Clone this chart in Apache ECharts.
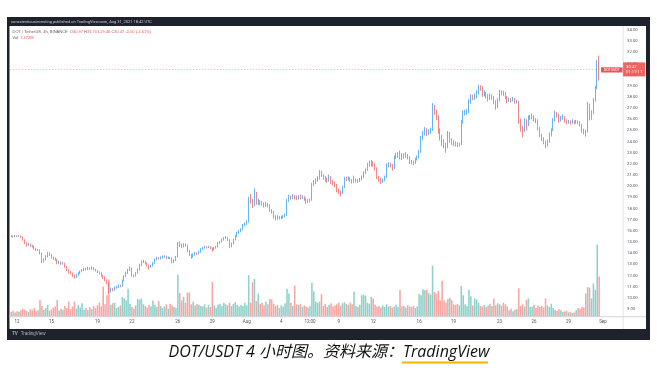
<!DOCTYPE html>
<html><head><meta charset="utf-8">
<script src="https://cdn.jsdelivr.net/npm/echarts/dist/echarts.min.js"></script>
<style>html,body{margin:0;padding:0;background:#fff}#c{width:657px;height:371px}</style>
</head><body><div id="c"></div>
<script>
// DOT/USDT 4h candles, Jul 11 12:00 UTC -> Aug 31 16:00 UTC
const opens = [
15.55,15.52,15.48,15.55,15.50,15.53,15.45,15.20,14.90,14.72,
14.80,14.65,14.60,14.40,14.27,14.30,14.00,13.25,13.40,13.70,
14.00,13.85,13.60,13.50,13.40,13.10,13.20,13.05,13.10,12.80,
12.50,12.30,12.20,12.00,11.85,12.05,12.20,12.35,12.45,12.60,
12.55,12.65,12.60,12.70,12.55,12.45,12.30,12.20,12.00,11.85,
11.60,11.35,10.55,10.80,10.70,10.90,10.95,11.10,11.05,11.55,
11.90,12.20,12.45,12.65,12.00,11.95,12.20,12.50,12.90,13.20,
13.25,13.10,12.90,12.75,12.85,13.10,13.40,13.55,13.50,13.60,
13.65,13.70,13.55,13.60,13.55,13.20,13.35,13.65,14.80,14.70,
14.60,14.75,14.70,14.25,13.90,13.65,13.85,14.00,13.95,14.10,
14.35,14.45,14.55,14.50,14.55,14.45,14.30,14.45,14.55,14.90,
15.00,15.20,15.35,15.40,15.20,14.60,14.85,15.20,15.50,15.80,
15.95,16.10,16.50,16.60,16.80,18.75,18.70,18.30,19.40,18.55,
18.60,18.50,18.40,18.30,18.35,18.30,17.85,17.70,17.30,17.10,
17.25,17.15,17.20,17.30,17.40,18.70,19.00,18.95,19.05,19.00,
18.90,19.00,18.95,19.00,18.90,18.60,18.70,18.75,20.10,20.30,
20.50,20.70,21.25,21.00,20.80,20.60,20.50,20.80,20.40,20.30,
20.10,19.65,19.50,19.40,19.90,20.70,20.65,20.70,20.55,20.40,
20.50,20.55,20.45,20.60,20.80,21.20,21.45,21.90,21.95,22.10,
21.95,21.60,20.80,20.60,20.50,20.55,20.80,21.90,21.95,21.90,
21.60,22.60,22.70,22.80,22.70,22.60,22.75,22.80,22.60,22.20,
22.15,22.10,22.40,22.60,23.05,24.30,24.70,25.00,24.75,24.90,
25.00,27.10,26.65,26.20,25.00,24.40,23.95,23.70,23.50,24.75,
24.10,23.90,23.85,23.80,23.70,23.75,25.75,26.55,26.60,26.65,
27.55,28.00,27.95,28.00,28.35,28.90,28.85,28.20,28.35,28.10,
27.90,28.05,28.00,27.60,27.10,27.70,28.45,28.40,28.35,28.00,
27.70,27.75,27.70,27.80,27.55,27.60,25.90,25.30,25.00,25.90,
25.50,26.10,26.15,26.20,26.00,25.90,25.20,24.60,24.30,24.00,
23.70,24.00,24.60,25.00,25.90,26.55,26.40,25.90,26.10,26.20,
25.90,25.75,25.80,25.70,25.80,25.75,25.80,25.75,25.50,25.00,
24.90,24.85,27.30,26.10,26.55,27.70,28.80,30.97
];
const closes = [
15.52,15.48,15.55,15.50,15.53,15.45,15.20,14.90,14.72,14.80,
14.65,14.60,14.40,14.27,14.30,14.00,13.25,13.40,13.70,14.00,
13.85,13.60,13.50,13.40,13.10,13.20,13.05,13.10,12.80,12.50,
12.30,12.20,12.00,11.85,12.05,12.20,12.35,12.45,12.60,12.55,
12.65,12.60,12.70,12.55,12.45,12.30,12.20,12.00,11.85,11.60,
11.35,10.55,10.80,10.70,10.90,10.95,11.10,11.05,11.55,11.90,
12.20,12.45,12.65,12.00,11.95,12.20,12.50,12.90,13.20,13.25,
13.10,12.90,12.75,12.85,13.10,13.40,13.55,13.50,13.60,13.65,
13.70,13.55,13.60,13.55,13.20,13.35,13.65,14.80,14.70,14.60,
14.75,14.70,14.25,13.90,13.65,13.85,14.00,13.95,14.10,14.35,
14.45,14.55,14.50,14.55,14.45,14.30,14.45,14.55,14.90,15.00,
15.20,15.35,15.40,15.20,14.60,14.85,15.20,15.50,15.80,15.95,
16.10,16.50,16.60,16.80,18.75,18.70,18.30,19.40,18.55,18.60,
18.50,18.40,18.30,18.35,18.30,17.85,17.70,17.30,17.10,17.25,
17.15,17.20,17.30,17.40,18.70,19.00,18.95,19.05,19.00,18.90,
19.00,18.95,19.00,18.90,18.60,18.70,18.75,20.10,20.30,20.50,
20.70,21.25,21.00,20.80,20.60,20.50,20.80,20.40,20.30,20.10,
19.65,19.50,19.40,19.90,20.70,20.65,20.70,20.55,20.40,20.50,
20.55,20.45,20.60,20.80,21.20,21.45,21.90,21.95,22.10,21.95,
21.60,20.80,20.60,20.50,20.55,20.80,21.90,21.95,21.90,21.60,
22.60,22.70,22.80,22.70,22.60,22.75,22.80,22.60,22.20,22.15,
22.10,22.40,22.60,23.05,24.30,24.70,25.00,24.75,24.90,25.00,
27.10,26.65,26.20,25.00,24.40,23.95,23.70,23.50,24.75,24.10,
23.90,23.85,23.80,23.70,23.75,25.75,26.55,26.60,26.65,27.55,
28.00,27.95,28.00,28.35,28.90,28.85,28.20,28.35,28.10,27.90,
28.05,28.00,27.60,27.10,27.70,28.45,28.40,28.35,28.00,27.70,
27.75,27.70,27.80,27.55,27.60,25.90,25.30,25.00,25.90,25.50,
26.10,26.15,26.20,26.00,25.90,25.20,24.60,24.30,24.00,23.70,
24.00,24.60,25.00,25.90,26.55,26.40,25.90,26.10,26.20,25.90,
25.75,25.80,25.70,25.80,25.75,25.80,25.75,25.50,25.00,24.90,
24.85,27.30,26.10,26.55,27.70,28.80,30.97,30.47
];
const highs = [
15.62,15.58,15.63,15.60,15.62,15.58,15.50,15.25,14.98,14.92,
14.86,14.74,14.66,14.48,14.40,14.35,14.05,13.55,13.82,14.12,
14.08,13.92,13.70,13.62,13.48,13.32,13.28,13.22,13.15,12.86,
12.58,12.40,12.26,12.08,12.15,12.30,12.45,12.58,12.72,12.70,
12.78,12.72,12.82,12.76,12.62,12.52,12.38,12.28,12.06,11.92,
11.66,11.40,10.92,10.88,11.02,11.08,11.22,11.18,11.65,12.02,
12.35,12.60,12.80,12.72,12.10,12.32,12.62,13.05,13.35,13.40,
13.32,13.16,12.98,12.96,13.22,13.52,13.68,13.64,13.72,13.80,
13.82,13.76,13.70,13.66,13.60,13.45,13.75,15.00,15.05,14.85,
14.90,14.88,14.76,14.30,13.96,13.98,14.12,14.08,14.22,14.45,
14.56,14.66,14.62,14.66,14.62,14.52,14.55,14.64,15.00,15.10,
15.32,15.45,15.55,15.46,15.25,14.95,15.30,15.62,15.92,16.08,
16.22,16.62,16.75,16.95,19.05,19.30,18.85,19.80,19.50,18.90,
18.75,18.70,18.55,18.60,18.50,18.40,17.95,17.78,17.40,17.40,
17.35,17.35,17.42,17.55,18.85,19.25,19.15,19.30,19.20,19.15,
19.20,19.25,19.18,19.12,18.95,18.85,18.90,20.30,20.55,20.70,
20.90,21.45,21.40,21.10,20.90,20.75,21.05,20.90,20.55,20.40,
20.20,19.80,19.60,20.05,20.85,20.85,20.88,20.80,20.65,20.95,
20.70,20.62,20.75,20.95,21.35,21.60,22.10,22.30,22.35,22.25,
22.05,21.70,20.95,20.75,20.70,20.95,22.05,22.15,22.10,21.98,
22.75,23.00,23.05,23.20,22.95,22.95,23.05,22.90,22.70,22.35,
22.30,22.55,22.75,23.25,24.50,24.95,25.30,25.20,25.10,25.25,
27.45,27.30,26.85,26.35,25.20,24.60,24.20,23.90,24.95,24.85,
24.30,24.10,24.00,23.95,23.90,25.95,26.80,26.85,26.90,27.80,
28.25,28.20,28.30,28.60,29.10,29.05,28.95,28.60,28.45,28.25,
28.30,28.25,28.10,27.70,27.90,28.65,28.60,28.55,28.45,28.10,
27.95,27.90,28.00,27.90,27.75,27.65,26.05,25.40,26.10,26.00,
26.35,26.40,26.50,26.35,26.10,26.00,25.30,24.70,24.40,24.10,
24.20,24.80,25.20,26.10,26.75,26.65,26.50,26.30,26.45,26.30,
26.00,25.95,25.90,26.00,25.90,25.95,25.90,25.85,25.60,25.15,
25.05,27.55,27.40,26.80,27.90,29.00,31.30,31.70
];
const lows = [
15.44,15.40,15.42,15.45,15.46,15.38,15.12,14.82,14.60,14.66,
14.55,14.50,14.32,14.18,14.20,13.90,13.10,13.18,13.35,13.62,
13.75,13.52,13.40,13.30,13.00,13.02,12.96,12.98,12.70,12.40,
12.18,12.10,11.88,11.72,11.80,11.98,12.12,12.28,12.40,12.45,
12.48,12.50,12.52,12.46,12.36,12.22,12.10,11.90,11.70,11.48,
11.22,10.40,10.48,10.58,10.64,10.82,10.88,10.96,11.00,11.48,
11.85,12.12,12.40,11.90,11.82,11.90,12.15,12.45,12.85,13.10,
13.00,12.80,12.55,12.68,12.80,13.05,13.35,13.42,13.45,13.52,
13.58,13.45,13.48,13.45,13.08,13.12,13.30,13.60,14.55,14.45,
14.52,14.58,14.10,13.75,13.50,13.60,13.78,13.85,13.90,14.05,
14.28,14.40,14.42,14.45,14.36,14.15,14.25,14.40,14.50,14.84,
14.95,15.12,15.28,15.10,14.45,14.52,14.80,15.15,15.45,15.72,
15.88,16.05,16.42,16.52,16.75,18.45,18.05,18.20,18.35,18.30,
18.30,18.25,18.10,18.15,18.10,17.70,17.55,17.10,16.95,17.00,
17.02,17.05,17.10,17.20,17.35,18.60,18.80,18.85,18.80,18.75,
18.80,18.82,18.85,18.70,18.40,18.50,18.55,18.70,20.00,20.20,
20.40,20.60,20.85,20.60,20.40,20.30,20.40,20.20,20.10,19.90,
19.45,19.30,19.10,19.30,19.85,20.45,20.50,20.40,20.25,20.30,
20.35,20.30,20.38,20.52,20.72,21.10,21.38,21.75,21.80,21.75,
21.40,20.65,20.40,20.20,20.30,20.45,20.75,21.70,21.70,21.40,
21.55,22.45,22.55,22.40,22.35,22.45,22.55,22.40,22.00,21.95,
21.90,22.00,22.30,22.50,23.00,24.10,24.55,24.50,24.60,24.70,
24.95,26.40,25.90,24.70,24.10,23.60,23.40,23.00,23.40,23.90,
23.70,23.60,23.55,23.50,23.55,23.70,25.60,26.35,26.40,26.55,
27.40,27.70,27.75,27.90,28.25,28.55,28.00,28.05,27.85,27.60,
27.75,27.75,27.35,26.85,27.00,27.60,28.15,28.10,27.80,27.45,
27.55,27.50,27.60,27.40,27.40,25.60,24.90,24.40,24.85,25.00,
25.40,25.95,26.00,25.80,25.65,25.00,24.40,24.05,23.75,23.40,
23.55,23.90,24.45,24.95,25.80,26.15,25.70,25.80,25.95,25.70,
25.55,25.60,25.50,25.60,25.55,25.60,25.55,25.35,24.80,24.65,
24.45,24.80,25.90,25.95,26.45,27.60,28.70,29.46
];
// volume in millions
const volumes = [
0.9,1.1,0.8,1.0,0.9,1.2,1.5,1.3,1.1,0.9,
1.4,1.2,1.6,1.0,1.2,3.1,2.0,1.3,1.6,2.2,
1.1,1.4,1.7,1.9,3.1,1.2,1.5,1.3,2.0,1.6,
2.8,1.4,1.9,2.8,1.5,2.2,1.7,2.5,1.3,1.6,
1.2,1.8,1.4,2.0,1.6,2.1,2.6,1.9,5.6,2.3,
4.0,6.9,2.2,2.5,2.6,1.6,1.8,2.1,3.7,3.4,
3.0,5.2,2.4,1.8,1.5,2.1,3.3,3.2,3.4,2.3,
2.0,1.7,2.2,1.9,3.0,2.2,1.8,2.9,2.0,1.6,
1.9,2.3,1.5,2.4,2.1,1.8,1.6,7.8,4.4,3.0,
3.7,2.6,4.5,4.5,2.3,2.8,2.1,2.4,2.2,2.0,
1.9,2.3,1.7,2.2,1.8,6.5,2.1,1.6,2.2,2.4,
2.0,2.6,2.3,2.1,2.6,2.0,2.4,2.7,2.2,1.9,
2.2,2.0,2.6,2.1,7.7,2.6,6.4,7.0,2.9,4.3,
2.4,2.6,2.1,2.8,2.3,3.3,3.2,2.4,2.0,2.2,
1.6,2.1,1.9,2.5,5.2,4.3,2.6,2.0,5.8,2.3,
2.2,2.4,1.8,2.1,1.9,1.7,2.0,6.3,4.7,2.8,
2.6,2.8,4.2,2.0,2.4,1.8,2.2,2.5,1.9,2.1,
2.3,2.6,2.0,2.5,2.7,2.4,2.2,2.6,2.3,4.7,
2.0,1.8,2.2,4.0,4.1,3.9,2.6,2.4,3.7,3.4,
2.2,1.9,2.0,1.7,2.1,1.8,2.3,1.9,2.0,1.7,
1.9,2.2,1.8,5.0,1.9,2.0,1.7,2.1,1.9,1.8,
2.0,1.6,1.9,4.2,4.0,5.1,4.9,5.0,4.4,4.1,
9.5,4.6,4.3,4.8,3.0,6.7,3.0,2.6,3.3,3.5,
3.1,2.3,2.2,2.4,2.1,5.7,4.0,2.3,2.0,5.0,
3.8,2.1,3.4,3.2,2.6,2.0,1.9,2.2,1.8,2.1,
2.4,2.0,3.4,2.1,2.5,2.3,2.0,2.6,2.3,1.9,
1.2,1.5,1.0,1.3,1.4,5.3,2.0,2.3,1.9,3.1,
3.4,1.8,1.9,2.2,1.6,2.1,1.8,2.0,1.7,3.4,
2.1,1.8,2.4,1.6,1.3,1.1,1.4,1.2,0.9,1.0,
1.1,0.8,0.9,0.7,0.8,1.2,1.6,1.5,1.8,1.7,
4.3,5.5,5.4,3.4,6.2,5.0,13.4,7.472
];
// time-axis tick labels: [category, label]
const tickLabels = [
['07-12 00:00','12'],['07-15 00:00','15'],['07-19 00:00','19'],['07-22 00:00','22'],
['07-26 00:00','26'],['07-29 00:00','29'],['08-01 00:00','Aug'],['08-04 00:00','4'],
['08-06 12:00','12:00'],['08-09 00:00','9'],['08-12 00:00','12'],['08-16 00:00','16'],
['08-19 00:00','19'],['08-23 00:00','23'],['08-26 00:00','26'],['08-29 00:00','29'],
['09-01 00:00','Sep']
];
const priceMin = 9, priceMax = 34, priceStep = 1;
const volMax = 15;
const countdown = '01:17:11';

// categories: 4h bars starting 2021-07-11 12:00 UTC, plus empty right margin
const pad = n => String(n).padStart(2,'0');
const categories = [];
const startUTC = Date.UTC(2021,6,11,12);
const nCats = closes.length + 12;
for (let i=0;i<nCats;i++){
  const d = new Date(startUTC + i*4*3600*1000);
  categories.push(pad(d.getUTCMonth()+1)+'-'+pad(d.getUTCDate())+' '+pad(d.getUTCHours())+':'+pad(d.getUTCMinutes()));
}
const labelMap = Object.fromEntries(tickLabels);

const UP='#2196f3', DOWN='#ef5350', UPV='#8fd1ca', DOWNV='#f7a6a4';
const candleData = opens.map((o,i)=>[o, closes[i], lows[i], highs[i]]);
const volData = volumes.map((v,i)=>({value:v, itemStyle:{color: closes[i]>=opens[i]?UPV:DOWNV}}));

const n = closes.length-1;
const lastO=opens[n], lastH=highs[n], lastL=lows[n], lastC=closes[n];
const chg = lastC - closes[n-1];
const pct = chg/closes[n-1]*100;
const fmt = v => (v<0?'-':'')+Math.abs(v).toFixed(2);

const chart = echarts.init(document.getElementById('c'));
const gridLeft = 10.3, gridRight = 657-623.1;
chart.setOption({
  animation:false,
  backgroundColor:'#ffffff',
  textStyle:{fontFamily:'Roboto, "Noto Sans", sans-serif'},
  grid:[
    {left:gridLeft,right:gridRight,top:30,height:279},
    {left:gridLeft,right:gridRight,top:236,height:80.7}
  ],
  xAxis:[
    {type:'category',gridIndex:0,data:categories,axisLine:{show:false},axisTick:{show:false},axisLabel:{show:false},splitLine:{show:false}},
    {type:'category',gridIndex:1,data:categories,axisLine:{show:false},axisTick:{show:false},splitLine:{show:false},
     axisLabel:{interval:(i,v)=>Object.prototype.hasOwnProperty.call(labelMap,v),formatter:v=>labelMap[v]||'',fontSize:4.5,color:'#50535e',margin:3}}
  ],
  yAxis:[
    {type:'value',gridIndex:0,position:'right',min:priceMin,max:priceMax,interval:priceStep,
     axisLine:{show:false},axisTick:{show:false},splitLine:{show:false},
     axisLabel:{fontSize:4.2,color:'#50535e',margin:4,formatter:v=>v.toFixed(2)}},
    {type:'value',gridIndex:1,min:0,max:volMax,show:false}
  ],
  series:[
    {type:'bar',xAxisIndex:1,yAxisIndex:1,data:volData,barWidth:'82%',z:2,silent:true},
    {type:'candlestick',xAxisIndex:0,yAxisIndex:0,data:candleData,barWidth:1.1,z:3,silent:true,
     itemStyle:{color:UP,color0:DOWN,borderColor:UP,borderColor0:DOWN,borderWidth:0.7},
     markLine:{symbol:['none','none'],silent:true,animation:false,
       data:[{yAxis:lastC}],
       lineStyle:{color:DOWN,type:[1,2],width:0.6,opacity:0.9},
       label:{show:true,position:'end',distance:0,formatter:()=>lastC.toFixed(2)+'\n'+countdown,
         backgroundColor:DOWN,color:'#fff',fontSize:4.2,lineHeight:5.5,padding:[1.5,3,1.5,3],align:'left'}}}
  ],
  graphic:[
    {type:'rect',z:-10,silent:true,shape:{x:7,y:17,width:643,height:323},style:{fill:'#1e222d'}},
    {type:'rect',z:-9,silent:true,shape:{x:9.5,y:26,width:636.5,height:303},style:{fill:'#ffffff'}},
    {type:'line',z:5,silent:true,shape:{x1:623.1,y1:26,x2:623.1,y2:329},style:{stroke:'#e0e3eb',lineWidth:1}},
    {type:'line',z:5,silent:true,shape:{x1:9.5,y1:316.7,x2:646,y2:316.7},style:{stroke:'#d1d4dc',lineWidth:1}},
    {type:'text',z:20,silent:true,style:{x:11,y:21.8,text:'conscientiousinvesting published on TradingView.com, Aug 31, 2021 18:42 UTC',
      fill:'#c9ccd4',fontSize:4,fontFamily:'Roboto',verticalAlign:'middle'}},
    {type:'text',z:20,silent:true,style:{x:12.5,y:31.7,verticalAlign:'middle',fontSize:4,fontFamily:'Roboto',
      text:'{g|DOT / TetherUS, 4h, BINANCE  }{g|O}{r|'+lastO.toFixed(2)+' }{g|H}{r|'+lastH.toFixed(2)+' }{g|L}{r|'+lastL.toFixed(2)+' }{g|C}{r|'+lastC.toFixed(2)+' '+fmt(chg)+' ('+fmt(pct)+'%)}',
      rich:{g:{fill:'#5d606b',fontSize:4},r:{fill:'#ef5350',fontSize:4}}}},
    {type:'text',z:20,silent:true,style:{x:12.5,y:37.5,verticalAlign:'middle',fontSize:4,fontFamily:'Roboto',
      text:'{g|Vol  }{r|'+volumes[n].toFixed(3)+'M}',rich:{g:{fill:'#5d606b',fontSize:4},r:{fill:'#ef5350',fontSize:4}}}},
    {type:'rect',z:20,silent:true,shape:{x:601,y:67.3,width:21.5,height:5.2},style:{fill:DOWN}},
    {type:'text',z:21,silent:true,style:{x:611.7,y:69.9,text:'DOTUSDT',fill:'#fff',fontSize:3.6,fontFamily:'Roboto',align:'center',verticalAlign:'middle'}},
    {type:'text',z:20,silent:true,style:{x:12,y:334,verticalAlign:'middle',fontFamily:'Roboto',
      text:'{b|TV} {t|TradingView}',rich:{b:{fill:'#b2b5be',fontSize:4.5,fontWeight:'bold'},t:{fill:'#b2b5be',fontSize:4.5}}}},
    {type:'text',z:20,silent:true,style:{x:403,y:352,text:'DOT/USDT 4 小时图。资料来源：',align:'right',verticalAlign:'middle',
      fontSize:16,fontStyle:'italic',fontFamily:'"Open Sans","Noto Sans CJK SC",sans-serif',fill:'#111111'}},
    {type:'text',z:20,silent:true,style:{x:403,y:352,text:'TradingView',align:'left',verticalAlign:'middle',
      fontSize:16,fontStyle:'italic',fontFamily:'"Open Sans","Noto Sans CJK SC",sans-serif',fill:'#111111'}},
    {type:'rect',z:20,silent:true,shape:{x:402,y:361.5,width:86,height:2},style:{fill:'#f5b400'}}
  ]
});
</script>
</body></html>
